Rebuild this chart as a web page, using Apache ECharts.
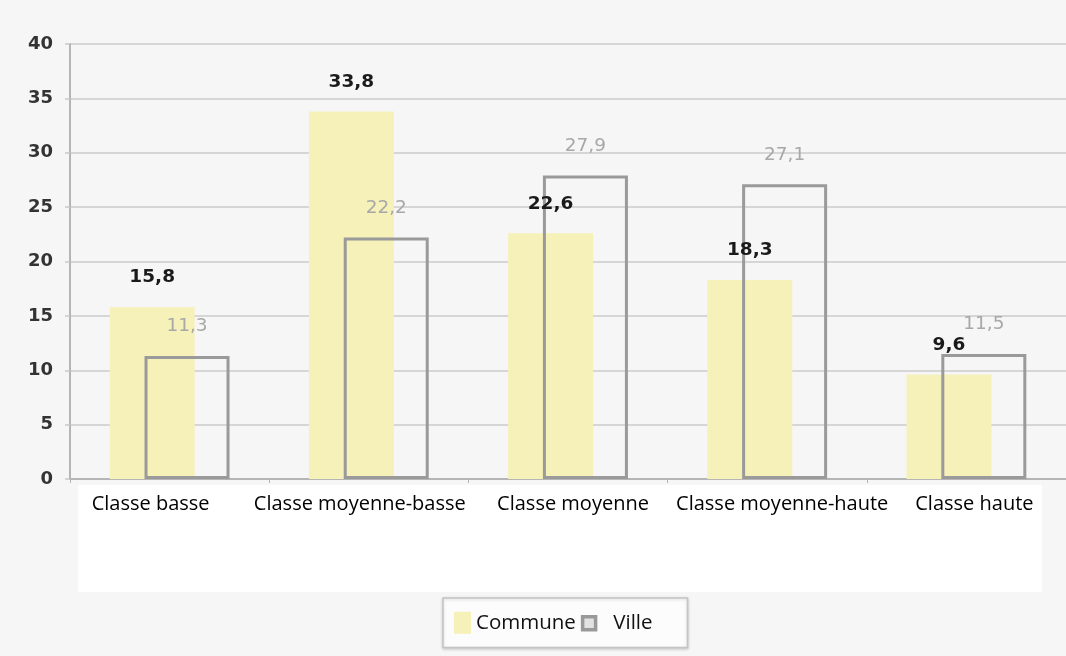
<!DOCTYPE html>
<html>
<head>
<meta charset="utf-8">
<script src="https://cdn.jsdelivr.net/npm/echarts@6/dist/echarts.min.js"></script>
<style>
  html, body { margin: 0; padding: 0; background: #f6f6f6; }
  #main { width: 1066px; height: 656px; }
</style>
</head>
<body>
<div id="main"></div>
<script>
// catégories de classe sociale
const categories = ['Classe basse', 'Classe moyenne-basse', 'Classe moyenne', 'Classe moyenne-haute', 'Classe haute']
// valeurs en %
const communeValues = [15.8, 33.8, 22.6, 18.3, 9.6]
const villeValues = [11.3, 22.2, 27.9, 27.1, 11.5]

// petit décalage des libellés de l'axe x (comme sur l'image d'origine)
const labelShift = [-19, -9, 5, 15, 8]

// virgule décimale
const fmt = p => String(p.value).replace('.', ',')

const chart = echarts.init(document.getElementById('main'))

chart.setOption({
  backgroundColor: '#f6f6f6',
  animation: false,
  // zone blanche sous l'axe
  graphic: [
    {
      type: 'rect',
      z: -10,
      shape: { x: 78, y: 485, width: 964, height: 107 },
      style: { fill: '#ffffff' }
    }
  ],
  grid: { left: 70, right: 0, top: 44, bottom: 177 },
  legend: {
    left: 443,
    top: 598,
    padding: [12, 35, 12, 11],
    itemGap: 3,
    itemWidth: 17,
    itemHeight: 22,
    borderColor: '#c4c4c4',
    borderWidth: 1.5,
    backgroundColor: '#fcfcfc',
    shadowColor: 'rgba(0,0,0,0.15)',
    shadowBlur: 3,
    shadowOffsetY: 1,
    textStyle: { fontFamily: 'Open Sans', fontSize: 20.5, color: '#111' },
    formatter: name => name === 'Ville' ? '  Ville' : name,
    data: [
      { name: 'Commune', icon: 'rect', itemStyle: { color: '#f5f1b9', borderWidth: 0 } },
      { name: 'Ville', icon: 'path://M0,0 M17,22 M2,5 H15 V18 H2 Z', itemStyle: { color: '#e2e2e2', borderColor: '#999', borderWidth: 3.5 } }
    ]
  },
  xAxis: {
    type: 'category',
    data: categories.map((c, i) => ({
      value: c,
      textStyle: {
        padding: labelShift[i] < 0 ? [0, -2 * labelShift[i], 0, 0] : [0, 0, 0, 2 * labelShift[i]]
      }
    })),
    axisLine: { lineStyle: { color: '#b5b5b5', width: 2 } },
    axisTick: { show: true, length: 4, lineStyle: { color: '#b5b5b5' } },
    axisLabel: {
      interval: 0,
      margin: 15,
      fontFamily: 'Open Sans',
      fontSize: 20,
      color: '#000'
    }
  },
  yAxis: {
    type: 'value',
    min: 0,
    max: 40,
    interval: 5,
    axisLine: { show: true, lineStyle: { color: '#b5b5b5', width: 2 } },
    axisTick: { show: true, length: 5, lineStyle: { color: '#c9c9c9', width: 1.5 } },
    axisLabel: {
      margin: 17,
      fontFamily: 'DejaVu Sans',
      fontWeight: 'bold',
      fontSize: 18,
      color: '#333'
    },
    splitLine: { lineStyle: { color: '#cbcbcb', width: 1.5 } }
  },
  series: [
    {
      name: 'Commune',
      type: 'bar',
      data: communeValues,
      barWidth: 85,
      barGap: '-59%',
      itemStyle: { color: '#f5f1b9' },
      label: {
        show: true,
        position: 'top',
        distance: 20,
        formatter: fmt,
        fontFamily: 'DejaVu Sans',
        fontWeight: 'bold',
        fontSize: 18.5,
        color: '#1a1a1a'
      }
    },
    {
      name: 'Ville',
      type: 'bar',
      data: villeValues,
      barWidth: 85,
      barGap: '-59%',
      itemStyle: { color: 'rgba(0,0,0,0)', borderColor: '#9a9a9a', borderWidth: 3 },
      label: {
        show: true,
        position: 'top',
        distance: 20,
        formatter: fmt,
        fontFamily: 'DejaVu Sans',
        fontSize: 18.5,
        color: '#a8a8a8'
      }
    }
  ]
})
</script>
</body>
</html>
